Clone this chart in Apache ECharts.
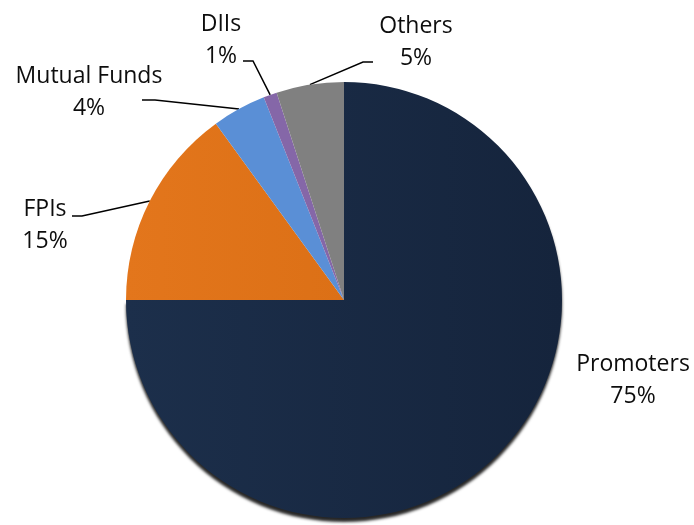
<!DOCTYPE html>
<html>
<head>
<meta charset="utf-8">
<title>Shareholding Pattern</title>
<script src="https://cdn.jsdelivr.net/npm/echarts@6/dist/echarts.min.js"></script>
<style>
  html, body { margin: 0; padding: 0; background: #ffffff; }
  #chart { width: 694px; height: 525px; }
</style>
</head>
<body>
<div id="chart"></div>
<script>
// Shareholding categories (clockwise from 12 o'clock) and their shares in percent
const categories = ['Promoters', 'FPIs', 'Mutual Funds', 'DIIs', 'Others'];
const shares = [75, 15, 4, 1, 5];

const sliceColors = {
  'Promoters': {
    type: 'linear', x: 0, y: 0, x2: 1, y2: 0,
    colorStops: [{ offset: 0, color: '#1c2f4b' }, { offset: 1, color: '#15243c' }]
  },
  'FPIs': {
    type: 'linear', x: 0, y: 0, x2: 1, y2: 0,
    colorStops: [{ offset: 0, color: '#e3761c' }, { offset: 1, color: '#dc7016' }]
  },
  'Mutual Funds': '#5a8fd6',
  'DIIs': '#8567a8',
  'Others': '#808080'
};

// Label placement: block centre, leader-line end (relative to the centre) and elbow length
const labelPlacement = {
  'Promoters':    { x: 633, y: 380, line: null },
  'FPIs':         { x: 45,  y: 225, line: { dx: 27,  dy: -9, elbow: 10 } },
  'Mutual Funds': { x: 89,  y: 92,  line: { dx: 53,  dy: 8,  elbow: 13 } },
  'DIIs':         { x: 221, y: 40,  line: { dx: 22,  dy: 21, elbow: 10 } },
  'Others':       { x: 416, y: 42,  line: { dx: -43, dy: 20, elbow: -10 } }
};

const chart = echarts.init(document.getElementById('chart'), null, { renderer: 'canvas' });

const data = categories.map((name, i) => {
  const item = {
    name: name,
    value: shares[i],
    itemStyle: { color: sliceColors[name] }
  };
  if (name === 'Promoters') {
    // dark rim along the lower edge of the disc
    item.itemStyle.shadowColor = 'rgba(0, 0, 0, 0.85)';
    item.itemStyle.shadowOffsetY = 4;
    item.itemStyle.shadowBlur = 3;
    item.labelLine = { show: false };
  }
  return item;
});

chart.setOption({
  animation: false,
  backgroundColor: '#ffffff',
  series: [{
    type: 'pie',
    center: [344, 300],
    radius: 218,
    startAngle: 90,
    clockwise: true,
    avoidLabelOverlap: false,
    data: data,
    itemStyle: { borderWidth: 0 },
    emphasis: { disabled: true },
    label: {
      show: true,
      position: 'outside',
      formatter: p => p.name + '\n' + Math.round(p.percent) + '%',
      fontFamily: 'Open Sans',
      fontSize: 23,
      lineHeight: 32,
      color: '#0d0d0d',
      align: 'center',
      verticalAlign: 'middle'
    },
    labelLine: {
      show: true,
      length: 20,
      length2: 10,
      smooth: false,
      lineStyle: { color: '#000000', width: 1.5 }
    },
    labelLayout: function (params) {
      const name = categories[params.dataIndex];
      const place = labelPlacement[name];
      const layout = {
        x: place.x,
        y: place.y,
        align: 'center',
        verticalAlign: 'middle'
      };
      if (place.line && params.labelLinePoints) {
        const anchor = params.labelLinePoints[0];
        const end = [place.x + place.line.dx, place.y + place.line.dy];
        const elbow = [end[0] + place.line.elbow, end[1]];
        layout.labelLinePoints = [anchor, elbow, end];
      }
      return layout;
    }
  }]
});
</script>
</body>
</html>
